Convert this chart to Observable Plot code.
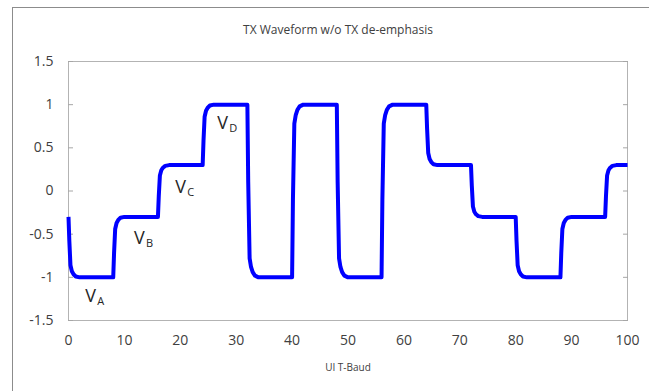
<!DOCTYPE html>
<html>
<head>
<meta charset="utf-8">
<script src="https://cdn.jsdelivr.net/npm/d3@7"></script>
<script src="https://cdn.jsdelivr.net/npm/@observablehq/plot@0.6"></script>
<style>
  html, body { margin: 0; padding: 0; background: #fff; }
  #wrap { position: relative; width: 649px; height: 391px; overflow: hidden; }
  #outer { position: absolute; left: 12px; top: 7px; width: 700px; height: 500px;
           border-left: 1.5px solid #8c8c8c; border-top: 1.5px solid #8c8c8c; }
  #chart { position: absolute; left: 0; top: 0; }
</style>
</head>
<body>
<div id="wrap"><div id="outer"></div><div id="chart"></div></div>
<script>
const title = "TX Waveform w/o TX de-emphasis";
const xLabel = "UI T-Baud";
const xTicks = [0, 10, 20, 30, 40, 50, 60, 70, 80, 90, 100];
const yTicks = [-1.5, -1, -0.5, 0, 0.5, 1, 1.5];

// waveform samples (UI, volts)
const ui = [
  0, 0.15, 0.35, 0.6, 0.9, 1.3, 2,
  8, 8.15, 8.35, 8.6, 8.9, 9.3, 10,
  16, 16.15, 16.35, 16.6, 16.9, 17.3, 18,
  24, 24.15, 24.35, 24.6, 24.9, 25.3, 26,
  32, 32.15, 32.4, 32.65, 32.95, 33.35, 34,
  40, 40.15, 40.4, 40.65, 40.95, 41.35, 42,
  48, 48.15, 48.4, 48.65, 48.95, 49.35, 50,
  56, 56.15, 56.4, 56.65, 56.95, 57.35, 58,
  64, 64.15, 64.35, 64.6, 64.9, 65.3, 66,
  72, 72.15, 72.35, 72.6, 72.9, 73.3, 74,
  80, 80.15, 80.35, 80.6, 80.9, 81.3, 82,
  88, 88.15, 88.35, 88.6, 88.9, 89.3, 90,
  96, 96.15, 96.35, 96.6, 96.9, 97.3, 98,
  100
];
const volts = [
  -0.3, -0.58, -0.86, -0.93, -0.965, -0.99, -1,
  -1, -0.72, -0.44, -0.37, -0.335, -0.31, -0.3,
  -0.3, -0.06, 0.18, 0.24, 0.27, 0.291, 0.3,
  0.3, 0.58, 0.86, 0.93, 0.965, 0.99, 1,
  1, 0.1, -0.78, -0.88, -0.94, -0.98, -1,
  -1, -0.1, 0.78, 0.88, 0.94, 0.98, 1,
  1, 0.1, -0.78, -0.88, -0.94, -0.98, -1,
  -1, -0.1, 0.78, 0.88, 0.94, 0.98, 1,
  1, 0.72, 0.44, 0.37, 0.335, 0.31, 0.3,
  0.3, 0.06, -0.18, -0.24, -0.27, -0.291, -0.3,
  -0.3, -0.58, -0.86, -0.93, -0.965, -0.99, -1,
  -1, -0.72, -0.44, -0.37, -0.335, -0.31, -0.3,
  -0.3, -0.06, 0.18, 0.24, 0.27, 0.291, 0.3,
  0.3
];

// level annotations
const labelX = [3.0, 11.7, 19.1, 26.6];
const labelY = [-1.29, -0.61, -0.02, 0.72];
const labelSub = ["A", "B", "C", "D"];

const points = ui.map((x, i) => ({x, y: volts[i]}));
const labels = labelX.map((x, i) => ({x, y: labelY[i], sub: labelSub[i]}));

const chart = Plot.plot({
  width: 649,
  height: 391,
  marginLeft: 68,
  marginRight: 22,
  marginTop: 61,
  marginBottom: 71,
  x: {domain: [0, 100]},
  y: {domain: [-1.5, 1.5]},
  style: {fontFamily: "'Open Sans', sans-serif", color: "#404040", background: "transparent", overflow: "visible"},
  marks: [
    Plot.frame({stroke: "#b3b3b3", strokeWidth: 1}),
    Plot.axisY({ticks: yTicks, tickSize: 0, tickPadding: 15, fontSize: 14, tickFormat: d => String(d), label: null}),
    Plot.axisY({anchor: "left", ticks: yTicks, tickSize: 5, dx: 5, tickFormat: () => "", label: null, stroke: "#a6a6a6"}),
    Plot.axisY({anchor: "right", ticks: yTicks, tickSize: 5, dx: -5, tickFormat: () => "", label: null, stroke: "#a6a6a6"}),
    Plot.axisX({ticks: xTicks, tickSize: 0, tickPadding: 15, fontSize: 14, tickFormat: d => String(d), label: null}),
    Plot.text([xLabel], {frameAnchor: "bottom", dy: 47, fontSize: 10, lineAnchor: "middle", fill: "#404040"}),
    Plot.text([title], {frameAnchor: "top", dy: -31, dx: -10, fontSize: 12, lineAnchor: "middle", fill: "#404040"}),
    Plot.line(points, {x: "x", y: "y", stroke: "#0000ff", strokeWidth: 4, strokeLinejoin: "round", strokeLinecap: "butt"}),
    Plot.text(labels, {x: "x", y: "y", text: () => "V", textAnchor: "start", lineAnchor: "bottom", fontSize: 18, fill: "#262626"}),
    Plot.text(labels, {x: "x", y: "y", text: "sub", textAnchor: "start", lineAnchor: "bottom", fontSize: 11, dx: 12, dy: 3, fill: "#262626"})
  ]
});
document.getElementById("chart").appendChild(chart);
</script>
</body>
</html>
